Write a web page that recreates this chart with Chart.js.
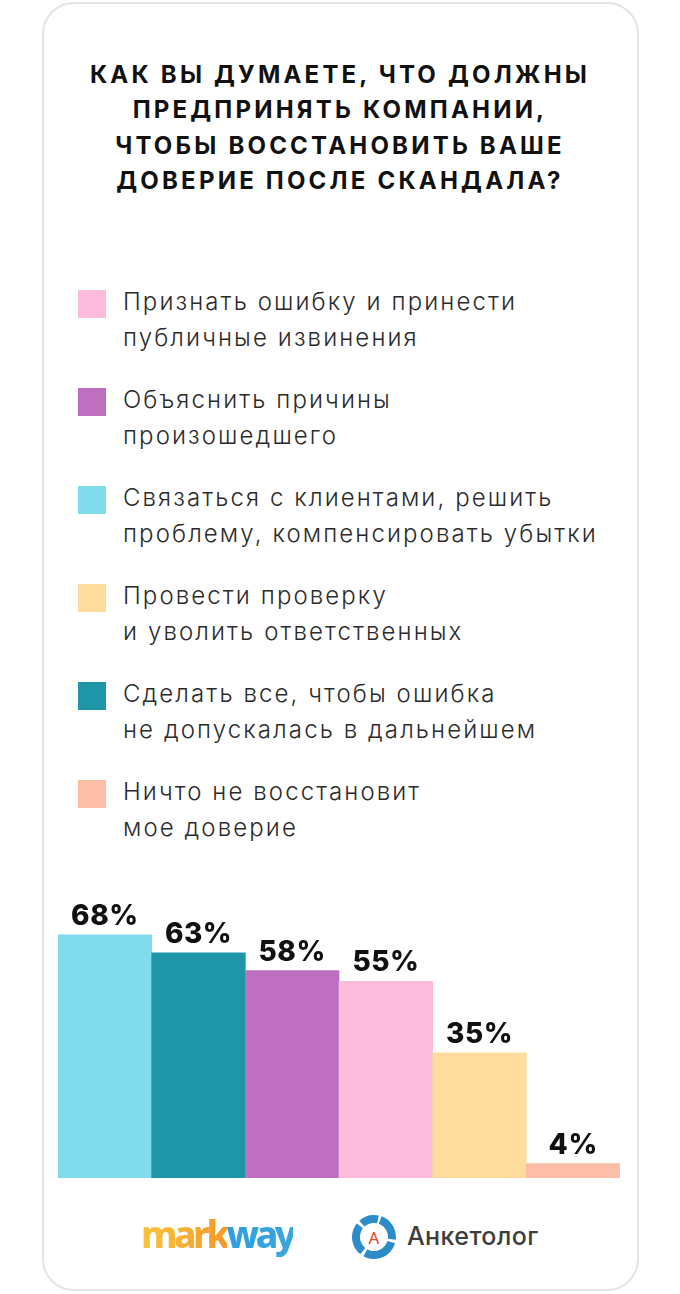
<!DOCTYPE html>
<html lang="ru">
<head>
<meta charset="utf-8">
<script src="https://cdn.jsdelivr.net/npm/chart.js@4/dist/chart.umd.min.js"></script>
<style>
  html, body { margin: 0; padding: 0; background: #fff; }
  body { width: 680px; height: 1294px; position: relative; overflow: hidden; font-family: Inter, "Noto Sans", sans-serif; }
  .card { position: absolute; left: 42px; top: 2px; width: 593px; height: 1285px; border: 2px solid #e4e4e4; border-radius: 32px; }
  .title { position: absolute; left: 0; width: 680px; top: 57px; text-align: center; font-weight: 700; font-size: 24px; line-height: 35.3px; color: #111; letter-spacing: 3.2px; }
  .leg { position: absolute; left: 78px; }
  .leg .sq { position: absolute; left: 0; top: 0; width: 28px; height: 28px; }
  .leg .txt { position: absolute; left: 45px; top: -6px; width: 520px; font-size: 24px; line-height: 36px; font-weight: 300; color: #2b2b2b; white-space: nowrap; letter-spacing: 2.1px; }
  .chartbox { position: absolute; left: 58px; top: 892px; width: 562px; height: 286px; }
  .markway { position: absolute; left: 141px; top: 1214px; font-family: "Noto Sans", sans-serif; font-weight: 800; font-size: 37px; letter-spacing: -3.5px; line-height: 40px; }
  .markway span { -webkit-background-clip: text; background-clip: text; color: transparent; }
  .anket { position: absolute; left: 351px; top: 1214px; }
  .anket .name { position: absolute; left: 56px; top: 2px; font-size: 25px; font-weight: 500; color: #3d3d3d; line-height: 40px; white-space: nowrap; letter-spacing: 0.4px; }
</style>
</head>
<body>
<div class="card"></div>
<div class="title">КАК ВЫ ДУМАЕТЕ, ЧТО ДОЛЖНЫ<br>ПРЕДПРИНЯТЬ КОМПАНИИ,<br>ЧТОБЫ ВОССТАНОВИТЬ ВАШЕ<br>ДОВЕРИЕ ПОСЛЕ СКАНДАЛА?</div>
<div id="legend"></div>
<div class="chartbox"><canvas id="bars"></canvas></div>
<div class="markway"><span style="background-image:linear-gradient(90deg,#f8c53a,#f39a2c)">mark</span><span style="background-image:linear-gradient(90deg,#2e9ee0,#3aa6db)">way</span></div>
<div class="anket">
  <svg width="46" height="46" viewBox="0 0 46 46">
    <circle cx="23" cy="23" r="18" fill="none" stroke="#2b8cc8" stroke-width="8" stroke-dasharray="24 3 32 3 28 3 17 3" transform="rotate(-70 23 23)"/>
    <circle cx="23" cy="23" r="13.5" fill="#fff"/>
    <text x="23" y="29.5" text-anchor="middle" font-family="Noto Sans, sans-serif" font-size="17" fill="#e8412e">A</text>
  </svg>
  <div class="name">Анкетолог</div>
</div>
<script>
// ответы в порядке легенды
const answers = [
  ['Признать ошибку и принести', 'публичные извинения'],
  ['Объяснить причины', 'произошедшего'],
  ['Связаться с клиентами, решить', 'проблему, компенсировать убытки'],
  ['Провести проверку', 'и уволить ответственных'],
  ['Сделать все, чтобы ошибка', 'не допускалась в дальнейшем'],
  ['Ничто не восстановит', 'мое доверие']
];
const shares = [55, 58, 68, 35, 63, 4];
const colors = ['#fdbbdc', '#bf6fc0', '#80dcea', '#fddc9d', '#1f96a8', '#fdbea8'];

// легенда
const legend = document.getElementById('legend');
answers.forEach((lines, i) => {
  const item = document.createElement('div');
  item.className = 'leg';
  item.style.top = (290 + i * 98) + 'px';
  item.innerHTML = '<div class="sq" style="background:' + colors[i] + '"></div>' +
    '<div class="txt">' + lines.join('<br>') + '</div>';
  legend.appendChild(item);
});

// столбцы по убыванию
const order = shares.map((v, i) => i).sort((a, b) => shares[b] - shares[a]);
const barLabels = order.map(i => answers[i].join(' '));
const barValues = order.map(i => shares[i]);
const barColors = order.map(i => colors[i]);

const valueLabels = {
  id: 'valueLabels',
  afterDatasetsDraw(chart) {
    const ctx = chart.ctx;
    const meta = chart.getDatasetMeta(0);
    ctx.save();
    ctx.font = '800 28px Inter, "Noto Sans", sans-serif';
    ctx.letterSpacing = '0.5px';
    ctx.fillStyle = '#111';
    ctx.textAlign = 'center';
    ctx.textBaseline = 'alphabetic';
    meta.data.forEach((bar, i) => {
      ctx.fillText(barValues[i] + '%', bar.x, bar.y - 10);
    });
    ctx.restore();
  }
};

new Chart(document.getElementById('bars').getContext('2d'), {
  type: 'bar',
  data: {
    labels: barLabels,
    datasets: [{
      data: barValues,
      backgroundColor: barColors,
      borderWidth: 0,
      barPercentage: 1,
      categoryPercentage: 1
    }]
  },
  plugins: [valueLabels],
  options: {
    responsive: true,
    maintainAspectRatio: false,
    animation: false,
    layout: { padding: 0 },
    plugins: { legend: { display: false }, tooltip: { enabled: false } },
    scales: {
      x: { display: false },
      y: { display: false, min: 0, max: 80 }
    }
  }
});
</script>
</body>
</html>
